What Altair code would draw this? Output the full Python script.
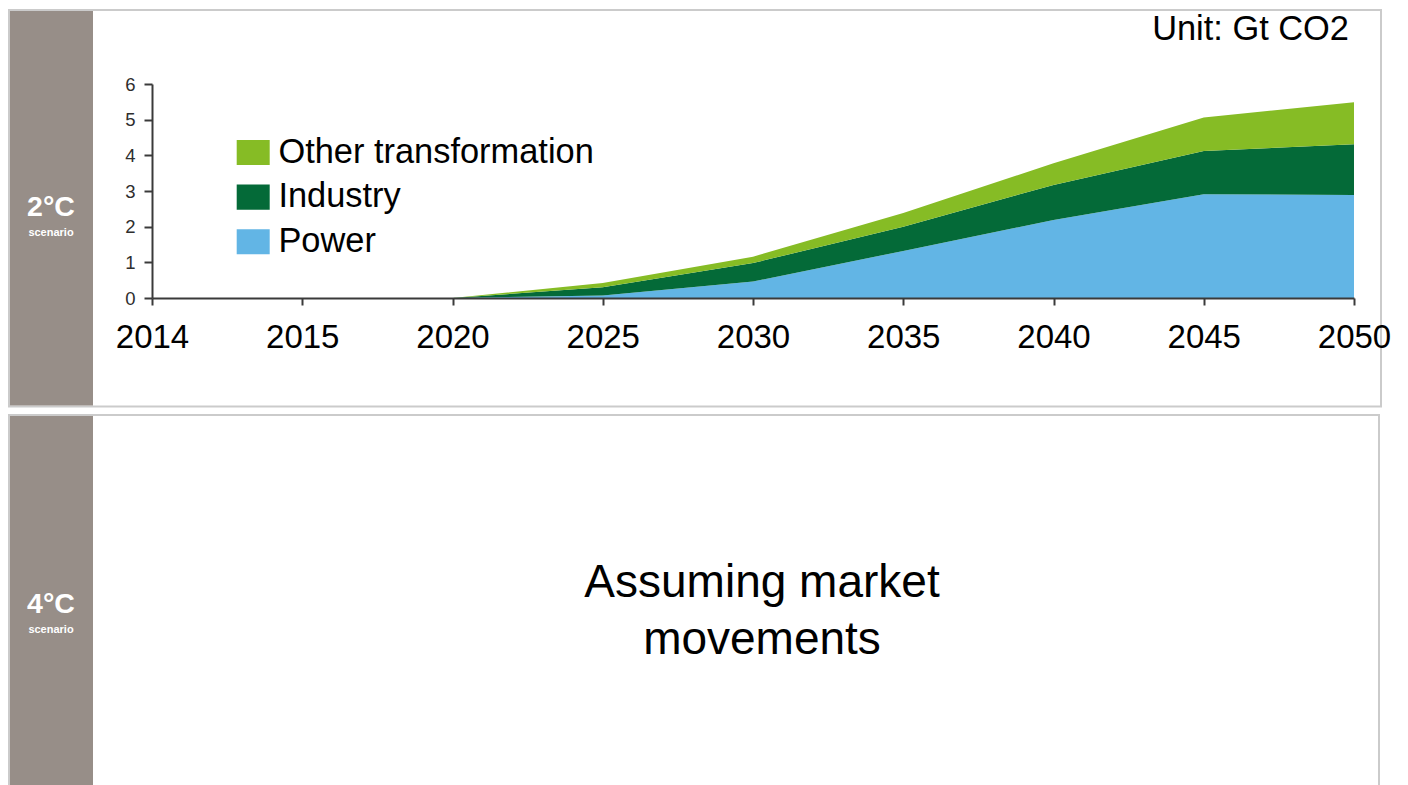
import altair as alt
import pandas as pd

# ---- data ----
axis_years = ["2014", "2015", "2020", "2025", "2030", "2035", "2040", "2045", "2050"]
data_years = ["2020", "2025", "2030", "2035", "2040", "2045", "2050"]
power = [0.0, 0.07, 0.46, 1.32, 2.19, 2.91, 2.89]
industry = [0.0, 0.23, 0.52, 0.68, 0.98, 1.21, 1.42]
other = [0.0, 0.12, 0.18, 0.38, 0.61, 0.94, 1.18]
series_names = ["Other transformation", "Industry", "Power"]
series_colors = ["#86BC25", "#046A38", "#62B5E5"]
y_ticks = [0, 1, 2, 3, 4, 5, 6]

unit_text = "Unit: Gt CO2"
scen_top = "2°C"
scen_bottom = "4°C"
scen_sub = "scenario"
bottom_text = "Assuming market\nmovements"

FONT = "Liberation Sans"

# ---- layout: plot-area origin on the page ----
OX, OY = 152, 84
W, H = 1202, 214


def rx(px):
    return px - OX


def ry(py):
    return py - OY


rows = []
for stack_pos, (name, vals) in enumerate([("Power", power), ("Industry", industry),
                                         ("Other transformation", other)]):
    for yr, v in zip(data_years, vals):
        rows.append({"year": yr, "value": v, "series": name, "stack_pos": stack_pos})
df = pd.DataFrame(rows)

one = pd.DataFrame({"k": [0]})

area = alt.Chart(df).mark_area(interpolate="linear", opacity=1).encode(
    x=alt.X("year:O",
            scale=alt.Scale(type="point", domain=axis_years, padding=0),
            axis=alt.Axis(title=None, labelAngle=0, labelFont=FONT, labelFontSize=33,
                          labelColor="#000000", tickSize=7, labelPadding=16,
                          domainColor="#3a3a3a", tickColor="#3a3a3a",
                          domainWidth=2, tickWidth=2, grid=False, zindex=1)),
    y=alt.Y("value:Q", stack="zero",
            scale=alt.Scale(domain=[0, 6], nice=False, zero=True),
            axis=alt.Axis(title=None, values=y_ticks, labelFont=FONT, labelFontSize=18.5,
                          labelColor="#2e2e2e", tickSize=8, labelPadding=9,
                          domainColor="#3a3a3a", tickColor="#3a3a3a",
                          domainWidth=2, tickWidth=2, grid=False, zindex=1)),
    color=alt.Color("series:N",
                    scale=alt.Scale(domain=series_names, range=series_colors),
                    legend=alt.Legend(title=None, orient="none", legendX=84, legendY=51.3,
                                      symbolType="M-1,-0.76H1V0.76H-1Z", symbolSize=1089,
                                      symbolStrokeWidth=0, symbolOpacity=1,
                                      labelFont=FONT, labelFontSize=34.4, labelColor="#000000",
                                      labelOffset=8, rowPadding=9.6, padding=0,
                                      labelLimit=600)),
    order=alt.Order("stack_pos:Q", sort="ascending"),
)


def rect(x1, x2, y1, y2, **kw):
    return alt.Chart(one).mark_rect(**kw).encode(
        x=alt.value(rx(x1)), x2=alt.value(rx(x2)),
        y=alt.value(ry(y1)), y2=alt.value(ry(y2)))


def label(txt, x, y, **kw):
    return alt.Chart(pd.DataFrame({"t": [txt]})).mark_text(font=FONT, **kw).encode(
        x=alt.value(rx(x)), y=alt.value(ry(y)), text="t:N")


BORDER = "#CBCBCB"
BAND = "#978E88"

panel_top = rect(9, 1381, 10, 406.5, fill="#ffffff", fillOpacity=0, stroke=BORDER, strokeWidth=2)
panel_bot = rect(9, 1379, 415, 900, fill="#ffffff", fillOpacity=0, stroke=BORDER, strokeWidth=2)
band_top = rect(10, 93, 11, 405.5, fill=BAND)
band_bot = rect(10, 93, 416, 900, fill=BAND)

t_2c = label(scen_top, 51, 216, fontSize=28.5, fontWeight="bold", color="#ffffff",
             align="center", baseline="alphabetic")
t_2c_sub = label(scen_sub, 51, 236, fontSize=11, fontWeight="bold", color="#ffffff",
                 align="center", baseline="alphabetic")
t_4c = label(scen_bottom, 51, 613, fontSize=28.5, fontWeight="bold", color="#ffffff",
             align="center", baseline="alphabetic")
t_4c_sub = label(scen_sub, 51, 633, fontSize=11, fontWeight="bold", color="#ffffff",
                 align="center", baseline="alphabetic")
t_unit = label(unit_text, 1349, 39.5, fontSize=34.4, color="#000000",
               align="right", baseline="alphabetic")
t_bottom = label(bottom_text, 762, 596.5, fontSize=46, color="#000000",
                 align="center", baseline="alphabetic", lineBreak="\n", lineHeight=57)

chart = alt.layer(
    panel_top, panel_bot, band_top, band_bot, area,
    t_2c, t_2c_sub, t_4c, t_4c_sub, t_unit, t_bottom,
).properties(
    width=W, height=H,
    autosize=alt.AutoSizeParams(type="none"),
    padding={"left": OX - 8, "top": OY - 8, "right": 1400 - (OX + W), "bottom": 785 - (OY + H)},
    background="#ffffff",
).configure_view(stroke=None)

chart.save("out.html", embed_options={"renderer": "svg", "actions": False})
